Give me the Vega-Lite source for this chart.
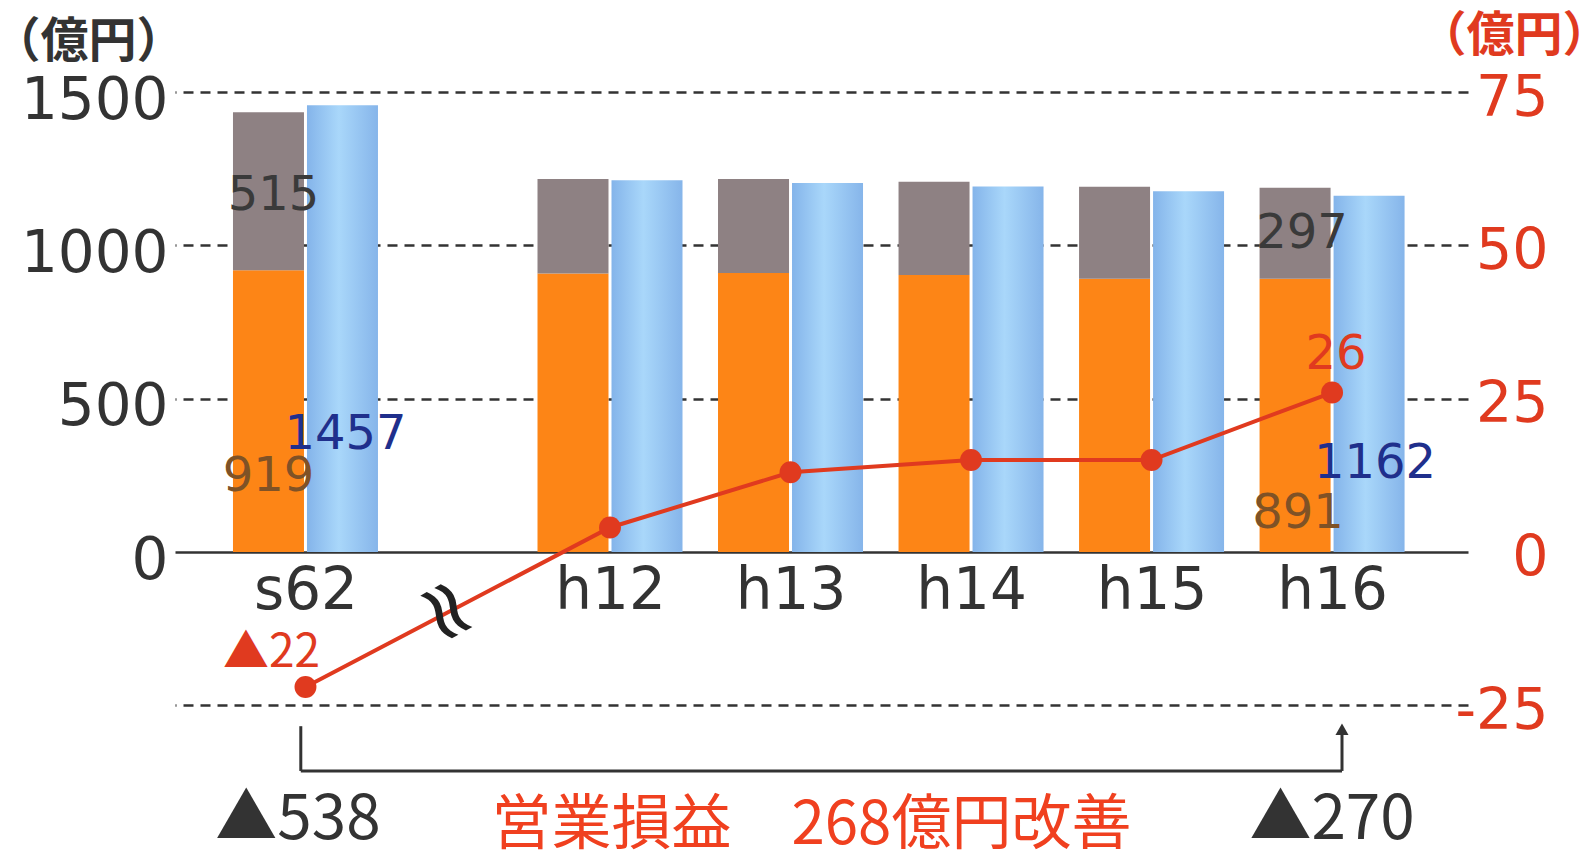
{
  "$schema": "https://vega.github.io/schema/vega-lite/v6.json",
  "width": 1293,
  "height": 761,
  "autosize": {"type": "none"},
  "padding": {"left": 175, "top": 92, "right": 127, "bottom": 0},
  "background": "white",
  "config": {"view": {"stroke": null}},
  "datasets": {
    "bars": [
      {"year": 1987, "label": "s62", "series": "運輸収入", "value": 919},
      {"year": 1987, "label": "s62", "series": "その他収入", "value": 515},
      {"year": 1987, "label": "s62", "series": "営業費用", "value": 1457},
      {"year": 2000, "label": "h12", "series": "運輸収入", "value": 908},
      {"year": 2000, "label": "h12", "series": "その他収入", "value": 308},
      {"year": 2000, "label": "h12", "series": "営業費用", "value": 1212},
      {"year": 2001, "label": "h13", "series": "運輸収入", "value": 910},
      {"year": 2001, "label": "h13", "series": "その他収入", "value": 306},
      {"year": 2001, "label": "h13", "series": "営業費用", "value": 1203},
      {"year": 2002, "label": "h14", "series": "運輸収入", "value": 903},
      {"year": 2002, "label": "h14", "series": "その他収入", "value": 304},
      {"year": 2002, "label": "h14", "series": "営業費用", "value": 1192},
      {"year": 2003, "label": "h15", "series": "運輸収入", "value": 891},
      {"year": 2003, "label": "h15", "series": "その他収入", "value": 300},
      {"year": 2003, "label": "h15", "series": "営業費用", "value": 1176},
      {"year": 2004, "label": "h16", "series": "運輸収入", "value": 891},
      {"year": 2004, "label": "h16", "series": "その他収入", "value": 297},
      {"year": 2004, "label": "h16", "series": "営業費用", "value": 1162}
    ],
    "profit": [
      {"year": 1987, "label": "s62", "value": -22, "text": "▲22"},
      {"year": 2000, "label": "h12", "value": 4, "text": "4"},
      {"year": 2001, "label": "h13", "value": 13, "text": "13"},
      {"year": 2002, "label": "h14", "value": 15, "text": "15"},
      {"year": 2003, "label": "h15", "value": 15, "text": "15"},
      {"year": 2004, "label": "h16", "value": 26, "text": "26"}
    ],
    "one": [{}]
  },
  "layer": [
    {
      "layer": [
        {
          "data": {"name": "bars"},
          "transform": [{"filter": "datum.series !== '営業費用'"}],
          "mark": {"type": "bar", "width": 71, "xOffset": -37},
          "encoding": {
            "x": {
              "field": "year", "type": "quantitative",
              "scale": {"domain": [1981.43, 2000, 2004.753], "range": [0, 435, 1293], "padding": 0, "nice": false, "zero": false},
              "axis": {
                "values": [1987, 2000, 2001, 2002, 2003, 2004],
                "labelExpr": "datum.value == 1987 ? 's62' : 'h' + (datum.value - 1988)",
                "offset": -301, "ticks": false, "tickSize": 0, "grid": false,
                "domain": true, "domainColor": "#333333", "domainWidth": 2.5,
                "labelFont": "DejaVu Sans", "labelFontSize": 58, "labelColor": "#333333",
                "labelPadding": 10, "labelFlush": false, "labelOverlap": false, "title": null
              }
            },
            "y": {
              "field": "value", "type": "quantitative", "stack": "zero",
              "scale": {"domain": [-981.5, 1500], "nice": false, "zero": false, "padding": 0},
              "axis": {
                "orient": "left", "values": [0, 500, 1000, 1500], "format": "d",
                "grid": false, "ticks": false, "tickSize": 0, "domain": false,
                "labelFont": "DejaVu Sans", "labelFontSize": 58, "labelColor": "#333333",
                "labelPadding": 7, "labelOffset": 9,
                "title": "（億円）", "titleAngle": 0, "titleAlign": "center", "titleBaseline": "middle",
                "titleX": -87, "titleY": -50, "titleFont": "Noto Sans CJK JP", "titleFontSize": 48,
                "titleFontWeight": "bold", "titleColor": "#333333"
              }
            },
            "color": {
              "field": "series", "type": "nominal",
              "scale": {"domain": ["運輸収入", "その他収入"], "range": ["#fd8516", "#8e8183"]},
              "legend": null
            },
            "order": {"field": "series", "sort": "descending"}
          }
        },
        {
          "data": {"name": "bars"},
          "transform": [{"filter": "datum.series === '営業費用'"}],
          "mark": {
            "type": "bar", "width": 71, "xOffset": 37,
            "color": {
              "gradient": "linear", "x1": 0, "x2": 1, "y1": 0, "y2": 0,
              "stops": [
                {"offset": 0, "color": "#84b4ea"},
                {"offset": 0.45, "color": "#a9d7fa"},
                {"offset": 1, "color": "#86b5ea"}
              ]
            }
          },
          "encoding": {
            "x": {"field": "year", "type": "quantitative"},
            "y": {"field": "value", "type": "quantitative"}
          }
        },
        {
          "data": {"name": "bars"},
          "transform": [{"filter": "datum.year === 1987 && datum.series === 'その他収入'"}],
          "mark": {"type": "text", "font": "DejaVu Sans", "fontSize": 48, "color": "#3a3a3a", "dx": -32, "dy": 3},
          "encoding": {"x": {"field": "year", "type": "quantitative"}, "y": {"datum": 1171}, "text": {"field": "value"}}
        },
        {
          "data": {"name": "bars"},
          "transform": [{"filter": "datum.year === 1987 && datum.series === '運輸収入'"}],
          "mark": {"type": "text", "font": "DejaVu Sans", "fontSize": 48, "color": "#7f5226", "dx": -37, "dy": 3},
          "encoding": {"x": {"field": "year", "type": "quantitative"}, "y": {"datum": 254}, "text": {"field": "value"}}
        },
        {
          "data": {"name": "bars"},
          "transform": [{"filter": "datum.year === 1987 && datum.series === '営業費用'"}],
          "mark": {"type": "text", "font": "DejaVu Sans", "fontSize": 48, "color": "#1f2f8c", "dx": 40, "dy": 3},
          "encoding": {"x": {"field": "year", "type": "quantitative"}, "y": {"datum": 391}, "text": {"field": "value"}}
        },
        {
          "data": {"name": "bars"},
          "transform": [{"filter": "datum.year === 2004 && datum.series === 'その他収入'"}],
          "mark": {"type": "text", "font": "DejaVu Sans", "fontSize": 48, "color": "#3a3a3a", "dx": -30, "dy": 3},
          "encoding": {"x": {"field": "year", "type": "quantitative"}, "y": {"datum": 1047}, "text": {"field": "value"}}
        },
        {
          "data": {"name": "bars"},
          "transform": [{"filter": "datum.year === 2004 && datum.series === '運輸収入'"}],
          "mark": {"type": "text", "font": "DejaVu Sans", "fontSize": 48, "color": "#7f5226", "dx": -34, "dy": 3},
          "encoding": {"x": {"field": "year", "type": "quantitative"}, "y": {"datum": 134}, "text": {"field": "value"}}
        },
        {
          "data": {"name": "bars"},
          "transform": [{"filter": "datum.year === 2004 && datum.series === '営業費用'"}],
          "mark": {"type": "text", "font": "DejaVu Sans", "fontSize": 48, "color": "#1f2f8c", "dx": 43, "dy": 3},
          "encoding": {"x": {"field": "year", "type": "quantitative"}, "y": {"datum": 297}, "text": {"field": "value"}}
        }
      ]
    },
    {
      "layer": [
        {
          "data": {"name": "profit"},
          "mark": {
            "type": "line", "color": "#e03a1f", "strokeWidth": 4,
            "point": {"filled": true, "size": 480, "color": "#e03a1f"}
          },
          "encoding": {
            "x": {"field": "year", "type": "quantitative"},
            "y": {
              "field": "value", "type": "quantitative",
              "scale": {"domain": [-49.076, 75], "nice": false, "zero": false, "padding": 0},
              "axis": {
                "orient": "right", "values": [-25, 0, 25, 50, 75],
                "grid": true, "gridDash": [10, 7], "gridColor": "#333333", "gridWidth": 2.5,
                "gridOpacity": {"condition": {"test": "datum.value === 0", "value": 0}, "value": 1},
                "ticks": false, "tickSize": 0, "domain": false,
                "labelAlign": "right", "labelPadding": 80, "labelOffset": 6,
                "labelFont": "DejaVu Sans", "labelFontSize": 57, "labelColor": "#e03a1f",
                "labelExpr": "datum.value < 0 ? '-' + abs(datum.value) : datum.label",
                "title": "（億円）", "titleAngle": 0, "titleAlign": "center", "titleBaseline": "middle",
                "titleX": 46, "titleY": -56, "titleFont": "Noto Sans CJK JP", "titleFontSize": 48,
                "titleFontWeight": "bold", "titleColor": "#e03a1f"
              }
            }
          }
        },
        {
          "data": {"name": "profit"},
          "transform": [{"filter": "datum.year === 2004"}],
          "mark": {"type": "text", "font": "DejaVu Sans", "fontSize": 48, "color": "#e03a1f", "dx": 4, "dy": -38},
          "encoding": {"x": {"field": "year", "type": "quantitative"}, "y": {"field": "value", "type": "quantitative"}, "text": {"field": "text"}}
        },
        {
          "data": {"name": "profit"},
          "transform": [{"filter": "datum.year === 1987"}],
          "mark": {"type": "text", "font": "Noto Sans CJK JP", "fontSize": 46, "color": "#e03a1f", "dx": -34, "dy": -34},
          "encoding": {"x": {"field": "year", "type": "quantitative"}, "y": {"field": "value", "type": "quantitative"}, "text": {"field": "text"}}
        },
        {
          "data": {"name": "one"},
          "mark": {"type": "text", "text": "≈", "font": "DejaVu Sans", "fontSize": 84, "angle": 61, "color": "#222222"},
          "encoding": {"x": {"datum": 1992.96}, "y": {"datum": -9.78}}
        },
        {
          "data": {"name": "one"},
          "mark": {"type": "rule", "color": "#333333", "strokeWidth": 3},
          "encoding": {"x": {"datum": 1986.8}, "y": {"datum": -28.4}, "y2": {"datum": -35.7}}
        },
        {
          "data": {"name": "one"},
          "mark": {"type": "rule", "color": "#333333", "strokeWidth": 3},
          "encoding": {"x": {"datum": 1986.8}, "x2": {"datum": 2004.055}, "y": {"datum": -35.7}}
        },
        {
          "data": {"name": "one"},
          "mark": {"type": "rule", "color": "#333333", "strokeWidth": 3},
          "encoding": {"x": {"datum": 2004.055}, "y": {"datum": -35.7}, "y2": {"datum": -29.5}}
        },
        {
          "data": {"name": "one"},
          "mark": {"type": "point", "shape": "triangle-up", "filled": true, "size": 170, "color": "#333333", "opacity": 1},
          "encoding": {"x": {"datum": 2004.055}, "y": {"datum": -28.9}}
        },
        {
          "data": {"name": "one"},
          "mark": {"type": "text", "text": "▲538", "font": "Noto Sans CJK JP", "fontSize": 62, "color": "#333333", "dy": 3},
          "encoding": {"x": {"datum": 1986.68}, "y": {"datum": -43.2}}
        },
        {
          "data": {"name": "one"},
          "mark": {"type": "text", "text": "▲270", "font": "Noto Sans CJK JP", "fontSize": 62, "color": "#333333", "dy": 3},
          "encoding": {"x": {"datum": 2004.0}, "y": {"datum": -43.2}}
        },
        {
          "data": {"name": "one"},
          "mark": {"type": "text", "text": "営業損益　268億円改善", "font": "Noto Sans CJK JP", "fontSize": 60, "color": "#f0401f", "dy": 3},
          "encoding": {"x": {"datum": 2001.116}, "y": {"datum": -44.2}}
        }
      ]
    }
  ],
  "resolve": {"scale": {"y": "independent"}}
}
